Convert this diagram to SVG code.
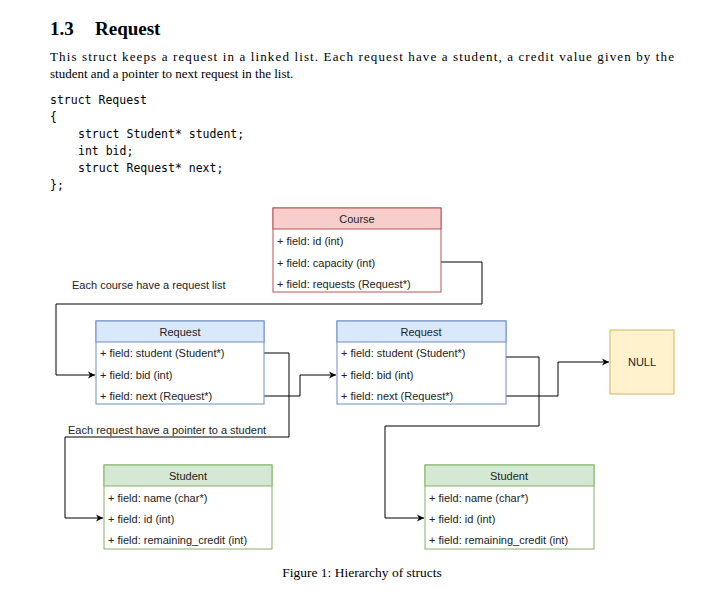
<svg xmlns="http://www.w3.org/2000/svg" width="710" height="595" viewBox="0 0 710 595">
<style>
.s{font-family:"Liberation Serif",serif;fill:#000}
.m{font-family:"DejaVu Sans Mono","Liberation Mono",monospace;font-size:11.5px;fill:#000}
.t{font-family:"Liberation Sans",Arial,sans-serif;font-size:11px;fill:#222}
.c{stroke:#000;stroke-width:1;fill:none}
</style>
<defs><marker id="a" markerWidth="8" markerHeight="8" refX="7" refY="4" orient="auto" markerUnits="userSpaceOnUse"><path d="M0,0.5 L7,4 L0,7.5 L2,4 Z" fill="#000"/></marker></defs>
<rect width="710" height="595" fill="#fff"/>
<text class="s" x="50" y="35" font-size="19" font-weight="bold">1.3<tspan x="95">Request</tspan></text>
<text class="s" x="50" y="61" font-size="13" textLength="624" lengthAdjust="spacing">This struct keeps a request in a linked list. Each request have a student, a credit value given by the</text>
<text class="s" x="50" y="78" font-size="13">student and a pointer to next request in the list.</text>
<text class="m" x="50" y="104">struct Request</text>
<text class="m" x="50" y="121">{</text>
<text class="m" x="78" y="138">struct Student* student;</text>
<text class="m" x="78" y="155">int bid;</text>
<text class="m" x="78" y="172">struct Request* next;</text>
<text class="m" x="50" y="189">};</text>
<g id="connectors">
<polyline class="c" points="441,262 482,262 482,304 56,304 56,375 95,375" marker-end="url(#a)"/>
<polyline class="c" points="264,353 289,353 289,437 65,437 65,518 103,518" marker-end="url(#a)"/>
<polyline class="c" points="264,396 300,396 300,375 336,375" marker-end="url(#a)"/>
<polyline class="c" points="506,357 539,357 539,426 385,426 385,518 424,518" marker-end="url(#a)"/>
<polyline class="c" points="506,396 558,396 558,362 609,362" marker-end="url(#a)"/>
<text class="t" x="72" y="289">Each course have a request list</text>
<text class="t" x="68" y="434">Each request have a pointer to a student</text>
</g>
<g id="course">
<rect x="273" y="208" width="168" height="84" fill="#fff" stroke="#b85450"/>
<rect x="273" y="208" width="168" height="21" fill="#f8cecc" stroke="#b85450"/>
<text class="t" x="357" y="223" text-anchor="middle">Course</text>
<text class="t" x="277" y="245">+ field: id (int)</text>
<text class="t" x="277" y="267">+ field: capacity (int)</text>
<text class="t" x="277" y="288">+ field: requests (Request*)</text>
</g>
<g id="request1">
<rect x="96" y="321" width="168" height="83" fill="#fff" stroke="#6c8ebf"/>
<rect x="96" y="321" width="168" height="21" fill="#dae8fc" stroke="#6c8ebf"/>
<text class="t" x="180" y="336" text-anchor="middle">Request</text>
<text class="t" x="100" y="357">+ field: student (Student*)</text>
<text class="t" x="100" y="379">+ field: bid (int)</text>
<text class="t" x="100" y="400">+ field: next (Request*)</text>
</g>
<g id="request2">
<rect x="337" y="321" width="169" height="83" fill="#fff" stroke="#6c8ebf"/>
<rect x="337" y="321" width="169" height="21" fill="#dae8fc" stroke="#6c8ebf"/>
<text class="t" x="421" y="336" text-anchor="middle">Request</text>
<text class="t" x="341" y="357">+ field: student (Student*)</text>
<text class="t" x="341" y="379">+ field: bid (int)</text>
<text class="t" x="341" y="400">+ field: next (Request*)</text>
</g>
<g id="null">
<rect x="610" y="330" width="64" height="64" fill="#fff2cc" stroke="#d6b656"/>
<text class="t" x="642" y="366" text-anchor="middle">NULL</text>
</g>
<g id="student1">
<rect x="104" y="465" width="168" height="84" fill="#fff" stroke="#82b366"/>
<rect x="104" y="465" width="168" height="21" fill="#d5e8d4" stroke="#82b366"/>
<text class="t" x="188" y="480" text-anchor="middle">Student</text>
<text class="t" x="108" y="502">+ field: name (char*)</text>
<text class="t" x="108" y="523">+ field: id (int)</text>
<text class="t" x="108" y="544">+ field: remaining_credit (int)</text>
</g>
<g id="student2">
<rect x="425" y="465" width="169" height="84" fill="#fff" stroke="#82b366"/>
<rect x="425" y="465" width="169" height="21" fill="#d5e8d4" stroke="#82b366"/>
<text class="t" x="509" y="480" text-anchor="middle">Student</text>
<text class="t" x="429" y="502">+ field: name (char*)</text>
<text class="t" x="429" y="523">+ field: id (int)</text>
<text class="t" x="429" y="544">+ field: remaining_credit (int)</text>
</g>
<text class="s" x="362" y="577" font-size="13.5" text-anchor="middle">Figure 1: Hierarchy of structs</text>
</svg>
